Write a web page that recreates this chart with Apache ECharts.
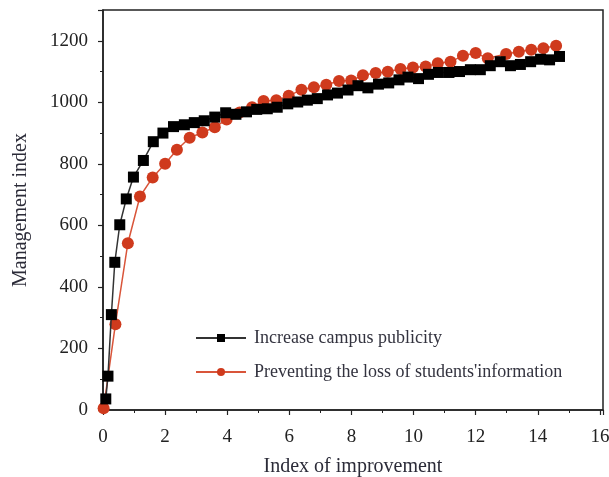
<!DOCTYPE html>
<html>
<head>
<meta charset="utf-8">
<script src="https://cdn.jsdelivr.net/npm/echarts@6/dist/echarts.min.js"></script>
<style>
  html, body { margin: 0; padding: 0; background: #fff; }
  #main { width: 609px; height: 477px; }
</style>
</head>
<body>
<div id="main"></div>
<script>
const chartDom = document.getElementById("main");
const myChart = echarts.init(chartDom);

// series names
const seriesNames = ["Increase campus publicity", "Preventing the loss of students'information"];

// Increase campus publicity (black squares)
const publicityX = [0.09, 0.16, 0.27, 0.38, 0.54, 0.75, 0.98, 1.30, 1.62, 1.93, 2.27, 2.62, 2.94, 3.26, 3.60, 3.95, 4.28, 4.62, 4.95, 5.29, 5.61, 5.95, 6.27, 6.58, 6.90, 7.23, 7.55, 7.89, 8.21, 8.53, 8.87, 9.20, 9.53, 9.82, 10.16, 10.48, 10.80, 11.14, 11.48, 11.83, 12.15, 12.47, 12.79, 13.12, 13.44, 13.77, 14.09, 14.38, 14.70];
const publicityY = [36, 110, 310, 480, 602, 686, 757, 811, 872, 900, 921, 927, 934, 940, 952, 966, 961, 969, 977, 979, 984, 995, 1001, 1007, 1012, 1024, 1030, 1040, 1054, 1047, 1059, 1063, 1073, 1082, 1077, 1091, 1097, 1097, 1100, 1106, 1106, 1119, 1132, 1119, 1123, 1132, 1140, 1138, 1149];

// Preventing the loss of students' information (red circles)
const lossX = [0.02, 0.40, 0.80, 1.19, 1.60, 2.00, 2.38, 2.79, 3.20, 3.60, 3.98, 4.40, 4.80, 5.17, 5.58, 5.98, 6.39, 6.79, 7.19, 7.60, 7.99, 8.37, 8.78, 9.17, 9.58, 9.98, 10.39, 10.78, 11.19, 11.59, 12.00, 12.39, 12.98, 13.39, 13.79, 14.18, 14.59];
const lossY = [6, 279, 542, 694, 756, 800, 846, 885, 902, 919, 944, 967, 984, 1004, 1007, 1021, 1041, 1049, 1057, 1069, 1071, 1088, 1095, 1099, 1108, 1113, 1116, 1127, 1132, 1151, 1160, 1143, 1157, 1164, 1171, 1176, 1184];

const pair = (xs, ys) => xs.map((x, i) => [x, ys[i]]);

const serifFont = "Liberation Serif";

const option = {
    animation: false,
    backgroundColor: "#fff",
    grid: {
        left: 103,
        right: 6,
        top: 10,
        bottom: 67,
        outerBoundsMode: "none",
        containLabel: false,
        show: true,
        borderColor: "#222",
        borderWidth: 1.5,
    },
    legend: {
        orient: "vertical",
        left: 190,
        top: 324,
        itemWidth: 50,
        itemHeight: 10,
        itemGap: 16,
        textStyle: {
            fontFamily: serifFont,
            fontSize: 18,
            color: "#33333f",
            padding: [0, 0, 0, 3],
        },
        data: seriesNames,
    },
    xAxis: {
        type: "value",
        min: 0,
        max: 16.1,
        interval: 2,
        name: "Index of improvement",
        nameLocation: "middle",
        nameGap: 47,
        nameTextStyle: { fontFamily: serifFont, fontSize: 20, color: "#2b2b38" },
        axisLine: { show: true, lineStyle: { color: "#222", width: 1.5 } },
        axisTick: { show: true, length: 5, lineStyle: { color: "#222", width: 1.2 } },
        minorTick: { show: true, splitNumber: 2, length: 3, lineStyle: { color: "#222", width: 1 } },
        splitLine: { show: false },
        axisLabel: {
            fontFamily: serifFont,
            fontSize: 19,
            color: "#222",
            margin: 18,
            showMaxLabel: false,
            formatter: (v) => (v % 2 === 0 ? v : ""),
        },
    },
    yAxis: {
        type: "value",
        min: 0,
        max: 1300,
        interval: 200,
        name: "Management index",
        nameLocation: "middle",
        nameGap: 72,
        nameTextStyle: { fontFamily: serifFont, fontSize: 20, color: "#2b2b38" },
        axisLine: { show: true, lineStyle: { color: "#222", width: 1.5 } },
        axisTick: { show: true, length: 5, lineStyle: { color: "#222", width: 1.2 } },
        minorTick: { show: true, splitNumber: 2, length: 3, lineStyle: { color: "#222", width: 1 } },
        splitLine: { show: false },
        axisLabel: {
            fontFamily: serifFont,
            fontSize: 19,
            color: "#222",
            margin: 15,
            formatter: (v) => (v > 1200 ? "" : v),
        },
    },
    series: [
        {
            name: seriesNames[0],
            type: "line",
            data: pair(publicityX, publicityY),
            symbol: "rect",
            symbolSize: 11,
            itemStyle: { color: "#000" },
            lineStyle: { color: "#333", width: 1.5 },
            z: 3,
        },
        {
            name: seriesNames[1],
            type: "line",
            data: pair(lossX, lossY),
            symbol: "circle",
            symbolSize: 12,
            itemStyle: { color: "#cf3a1d" },
            lineStyle: { color: "#d9553a", width: 1.5 },
            z: 2,
        },
    ],
};

myChart.setOption(option);
</script>
</body>
</html>
